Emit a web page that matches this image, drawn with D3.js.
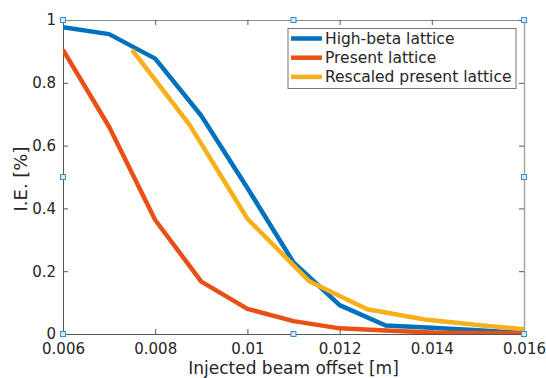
<!DOCTYPE html>
<html>
<head>
    <meta charset="utf-8">
    <title>Injection efficiency vs beam offset</title>
    <script src="https://cdnjs.cloudflare.com/ajax/libs/d3/7.8.5/d3.min.js"></script>
    <style>
        body { margin: 0; background: #fff; }
        svg { font-family: "DejaVu Sans", sans-serif; }
    </style>
</head>
<body>
<svg id="chart" width="546" height="378"></svg>
<script>
    // offsets [m] and injection efficiency
    var highBetaX = [0.006, 0.007, 0.008, 0.009, 0.010, 0.011, 0.012, 0.013, 0.014, 0.015, 0.016];
    var highBetaY = [0.977, 0.955, 0.877, 0.695, 0.465, 0.228, 0.092, 0.027, 0.020, 0.012, 0.003];

    var presentX = [0.006, 0.007, 0.008, 0.009, 0.010, 0.011, 0.012, 0.013, 0.014, 0.015, 0.016];
    var presentY = [0.905, 0.660, 0.363, 0.167, 0.080, 0.041, 0.018, 0.011, 0.005, 0.003, 0.002];

    var rescaledX = [0.0075, 0.00875, 0.0100, 0.01135, 0.0126, 0.01385, 0.0151, 0.0160];
    var rescaledY = [0.905, 0.665, 0.367, 0.167, 0.079, 0.046, 0.027, 0.015];

    var xTicks = [0.006, 0.008, 0.01, 0.012, 0.014, 0.016];
    var yTicks = [0, 0.2, 0.4, 0.6, 0.8, 1];

    var seriesNames = ["High-beta lattice", "Present lattice", "Rescaled present lattice"];
    var seriesColors = ["#0072bd", "#ea5016", "#f5b01c"];

    var margin = {left: 63, right: 22, top: 20, bottom: 44};
    var width = 546, height = 378;

    var svg = d3.select("#chart");

    var x = d3.scaleLinear().domain([0.006, 0.016]).range([margin.left, width - margin.right]);
    var y = d3.scaleLinear().domain([0, 1]).range([height - margin.bottom, margin.top]);

    var series = [
        d3.zip(highBetaX, highBetaY),
        d3.zip(presentX, presentY),
        d3.zip(rescaledX, rescaledY)
    ];

    svg.append("clipPath").attr("id", "plotclip")
        .append("rect")
        .attr("x", x.range()[0]).attr("y", y.range()[1])
        .attr("width", x.range()[1] - x.range()[0])
        .attr("height", y.range()[0] - y.range()[1]);

    var fmt = function(d) { return d3.format("")(+d.toFixed(3)); };

    // axes, ticks pointing inward like matlab
    svg.append("g")
        .attr("transform", "translate(0," + y(0) + ")")
        .call(d3.axisBottom(x).tickValues(xTicks).tickFormat(fmt).tickSizeInner(-5).tickSizeOuter(0).tickPadding(9))
        .call(g => g.select(".domain").attr("stroke", "#555"))
        .call(g => g.selectAll(".tick line").attr("stroke", "#555"))
        .call(g => g.selectAll("text").attr("fill", "#262626").style("font-size", "15px").style("font-family", "DejaVu Sans"));

    svg.append("g")
        .attr("transform", "translate(" + x(0.006) + ",0)")
        .call(d3.axisLeft(y).tickValues(yTicks).tickFormat(fmt).tickSizeInner(-5).tickSizeOuter(0).tickPadding(7))
        .call(g => g.select(".domain").attr("stroke", "#555"))
        .call(g => g.selectAll(".tick line").attr("stroke", "#555"))
        .call(g => g.selectAll("text").attr("fill", "#262626").style("font-size", "15px").style("font-family", "DejaVu Sans"));

    svg.append("g")
        .attr("transform", "translate(0," + y(1) + ")")
        .call(d3.axisTop(x).tickValues(xTicks).tickFormat("").tickSizeInner(-5).tickSizeOuter(0))
        .call(g => g.select(".domain").attr("stroke", "#8a8a8a"))
        .call(g => g.selectAll(".tick line").attr("stroke", "#555"));

    svg.append("g")
        .attr("transform", "translate(" + x(0.016) + ",0)")
        .call(d3.axisRight(y).tickValues(yTicks).tickFormat("").tickSizeInner(-5).tickSizeOuter(0))
        .call(g => g.select(".domain").attr("stroke", "#a5a5a5").attr("stroke-width", 1.5))
        .call(g => g.selectAll(".tick line").attr("stroke", "#555"));

    var line = d3.line().x(d => x(d[0])).y(d => y(d[1]));

    svg.append("g").attr("clip-path", "url(#plotclip)")
        .selectAll("path.series")
        .data(series)
        .enter()
        .append("path")
        .attr("class", "series")
        .attr("d", line)
        .attr("fill", "none")
        .attr("stroke", (d, i) => seriesColors[i])
        .attr("stroke-width", 4.5)
        .attr("stroke-linejoin", "round");

    // axis labels
    svg.append("text")
        .attr("x", (x.range()[0] + x.range()[1]) / 2)
        .attr("y", 374)
        .attr("text-anchor", "middle")
        .attr("fill", "#262626")
        .style("font-size", "17px")
        .text("Injected beam offset [m]");

    svg.append("text")
        .attr("transform", "translate(27,179) rotate(-90)")
        .attr("text-anchor", "middle")
        .attr("fill", "#262626")
        .style("font-size", "18px")
        .text("I.E. [%]");

    // legend
    var legend = svg.append("g");
    legend.append("rect")
        .attr("x", 288).attr("y", 28.5)
        .attr("width", 228).attr("height", 60)
        .attr("fill", "#fff").attr("stroke", "#777").attr("stroke-width", 1);

    seriesNames.forEach(function(name, i) {
        var ly = 38.5 + i * 19.2;
        legend.append("line")
            .attr("x1", 291).attr("x2", 322)
            .attr("y1", ly).attr("y2", ly)
            .attr("stroke", seriesColors[i]).attr("stroke-width", 4.5);
        legend.append("text")
            .attr("x", 325).attr("y", ly + 5.5)
            .attr("fill", "#262626")
            .style("font-size", "15.5px")
            .text(name);
    });

    // selection handles around the axes box
    var hxs = [x.range()[0], (x.range()[0] + x.range()[1]) / 2, x.range()[1]];
    var hys = [y.range()[1], (y.range()[0] + y.range()[1]) / 2, y.range()[0]];
    var handles = [];
    hxs.forEach(function(hx, i) {
        hys.forEach(function(hy, j) {
            if (i !== 1 || j !== 1) handles.push([hx, hy]);
        });
    });

    svg.selectAll("rect.handle")
        .data(handles)
        .enter()
        .append("rect")
        .attr("class", "handle")
        .attr("x", d => d[0] - 2.5).attr("y", d => d[1] - 2.5)
        .attr("width", 5).attr("height", 5)
        .attr("fill", "#d6eaf8").attr("stroke", "#3c8dc8").attr("stroke-width", 1);
</script>
</body>
</html>
